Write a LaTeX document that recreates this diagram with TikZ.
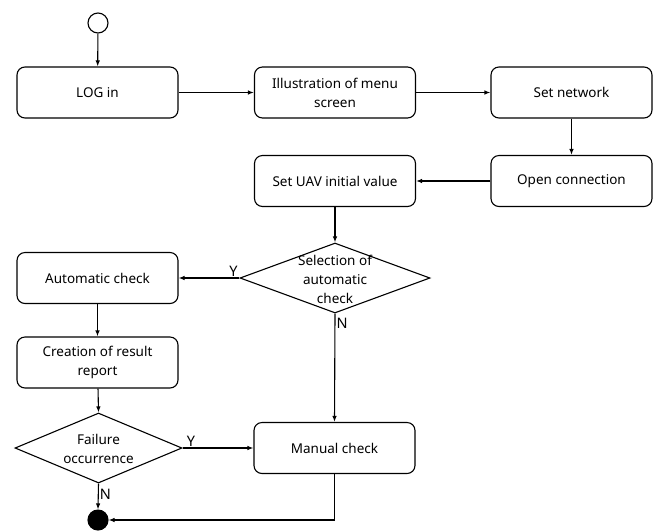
\documentclass[tikz,border=0pt]{standalone}
\usepackage{fontspec}
\setmainfont{Noto Sans}
\usetikzlibrary{shapes.geometric,arrows.meta}
\begin{document}
\begin{tikzpicture}[x=1pt,y=-1pt,
  font=\fontsize{13.5}{19}\selectfont,
  line width=1.1pt,
  box/.style={draw,rounded corners=8pt,minimum width=161pt,minimum height=51pt,align=center,inner sep=2pt},
  dec/.style={draw,diamond,inner sep=0pt},
  txt/.style={align=center,inner sep=0pt},
  lbl/.style={inner sep=1pt,font=\fontsize{14.5}{17}\selectfont},
  arr/.style={-{Latex[length=6pt,width=4.5pt]}}
]
\useasboundingbox (0,0) rectangle (655,531);
\node[draw,circle,minimum size=20pt,inner sep=0pt] (start) at (98,23) {};
\node[box] (login) at (97.5,92.5) {LOG in};
\node[box] (illus) at (335,92.5) {Illustration of menu\\screen};
\node[box] (setnet) at (571.5,92.5) {Set network};
\node[box] (open) at (571.5,181) {Open connection};
\node[box] (uav) at (335,181) {Set UAV initial value};
\node[dec,minimum width=190pt,minimum height=70pt] (sel) at (335,278) {};
\node[txt] (selt) at (335,279) {Selection of\\automatic\\check};
\node[box] (auto) at (97.5,278) {Automatic check};
\node[box] (creation) at (97.5,362.5) {Creation of result\\report};
\node[dec,minimum width=167pt,minimum height=70pt] (fail) at (98.5,448) {};
\node[txt] (failt) at (98.5,449) {Failure\\occurrence};
\node[box] (manual) at (334.5,448) {Manual check};
\node[draw,fill=black,circle,minimum size=20pt,inner sep=0pt] (end) at (98,520) {};

\draw[arr] (start) -- (login);
\draw[arr] (login) -- (illus);
\draw[arr] (illus) -- (setnet);
\draw[arr] (setnet) -- (open);
\draw[arr] (open) -- (uav);
\draw[arr] (uav) -- (sel.north);
\draw[arr] (sel.west) -- node[lbl,pos=0.1,above] (y1) {Y} (auto.east);
\draw[arr] (sel.south) -- node[lbl,pos=0.09,right] (n1) {N} (manual.north);
\draw[arr] (auto) -- (creation);
\draw[arr] (creation) -- (fail.north);
\draw[arr] (fail.east) -- node[lbl,pos=0.12,above] (y2) {Y} (manual.west);
\draw[arr] (fail.south) -- node[lbl,pos=0.4,right] (n2) {N} (end.north);
\draw[arr] (manual.south) |- (end.east);
\end{tikzpicture}
\end{document}
